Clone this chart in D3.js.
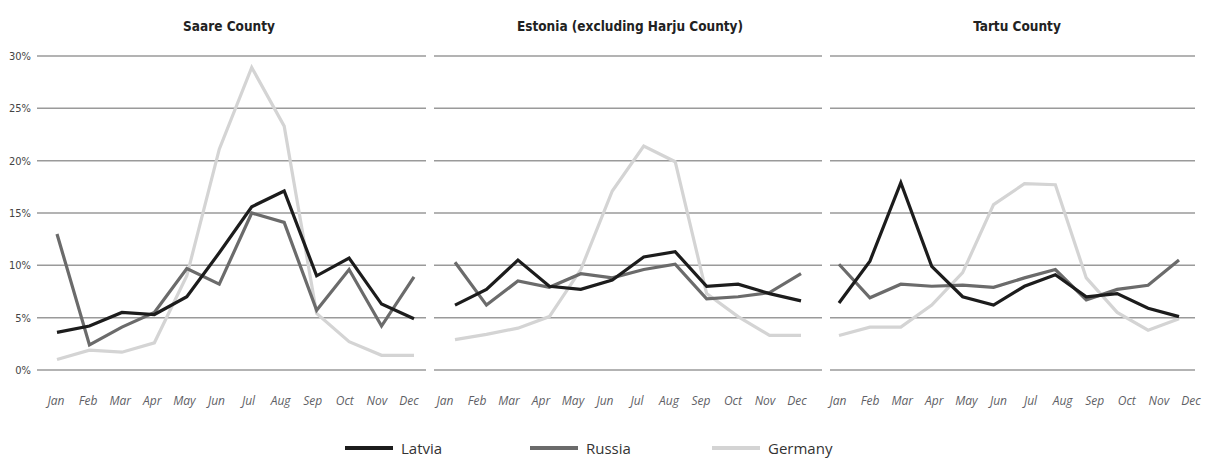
<!DOCTYPE html>
<html>
<head>
<meta charset="utf-8">
<script src="https://cdn.jsdelivr.net/npm/d3@7"></script>
<style>
  body { margin: 0; background: #fff; }
  #chart { width: 1213px; height: 462px; }
  .title { font-family: "Liberation Sans Narrow", "DejaVu Sans Condensed", sans-serif; font-weight: bold; font-size: 13.5px; fill: #222; }
  .month { font-family: "Open Sans", sans-serif; font-style: italic; font-size: 12px; fill: #5f5f66; }
  .ytick { font-family: "Liberation Sans Narrow", "DejaVu Sans Condensed", sans-serif; font-size: 11px; fill: #444; }
  .legend { font-family: "Open Sans", sans-serif; font-size: 15px; fill: #333; }
</style>
</head>
<body>
<div id="chart"></div>
<script>
var months = ["Jan","Feb","Mar","Apr","May","Jun","Jul","Aug","Sep","Oct","Nov","Dec"];
var regions = ["Saare County", "Estonia (excluding Harju County)", "Tartu County"];
var countries = ["Latvia", "Russia", "Germany"];
var yTicks = [0, 5, 10, 15, 20, 25, 30];

// percent per month
var saareLatvia  = [3.6, 4.2, 5.5, 5.3, 7.0, 11.2, 15.6, 17.1, 9.0, 10.7, 6.3, 4.9];
var saareRussia  = [13.0, 2.4, 4.1, 5.5, 9.7, 8.2, 15.0, 14.1, 5.7, 9.6, 4.2, 8.9];
var saareGermany = [1.0, 1.9, 1.7, 2.6, 9.0, 21.1, 28.9, 23.3, 5.4, 2.7, 1.4, 1.4];

var estoniaLatvia  = [6.2, 7.7, 10.5, 8.0, 7.7, 8.6, 10.8, 11.3, 8.0, 8.2, 7.3, 6.6];
var estoniaRussia  = [10.3, 6.2, 8.5, 7.9, 9.2, 8.8, 9.6, 10.1, 6.8, 7.0, 7.4, 9.2];
var estoniaGermany = [2.9, 3.4, 4.0, 5.1, 9.6, 17.1, 21.4, 19.9, 7.3, 5.1, 3.3, 3.3];

var tartuLatvia  = [6.4, 10.4, 17.9, 9.9, 7.0, 6.2, 8.0, 9.1, 7.0, 7.3, 5.9, 5.1];
var tartuRussia  = [10.1, 6.9, 8.2, 8.0, 8.1, 7.9, 8.8, 9.6, 6.7, 7.7, 8.1, 10.5];
var tartuGermany = [3.3, 4.1, 4.1, 6.2, 9.3, 15.8, 17.8, 17.7, 8.8, 5.5, 3.8, 4.9];

var seriesByRegion = [
  [saareLatvia, saareRussia, saareGermany],
  [estoniaLatvia, estoniaRussia, estoniaGermany],
  [tartuLatvia, tartuRussia, tartuGermany]
];

var width = 1213, height = 462;
var colors = {Latvia: "#1c1c1c", Russia: "#6b6b6b", Germany: "#d4d4d4"};

// panel layout
var panels = [
  {grid: [37, 426], data: [57, 414], labels: [56, 409], title: 229},
  {grid: [434, 822], data: [455, 801], labels: [445, 797], title: 630},
  {grid: [830, 1195], data: [839, 1179], labels: [838, 1191], title: 1017}
];

var svg = d3.select("#chart").append("svg")
  .attr("width", width)
  .attr("height", height);

var yScale = d3.scaleLinear().domain([0, 30]).range([370, 56]);

// y tick labels on the left
svg.append("g")
  .selectAll("text")
  .data(yTicks)
  .join("text")
  .attr("class", "ytick")
  .attr("x", 31)
  .attr("y", function(d) { return yScale(d); })
  .attr("dy", "0.35em")
  .attr("text-anchor", "end")
  .text(function(d) { return d + "%"; });

panels.forEach(function(p, i) {
  var g = svg.append("g");

  var xScale = d3.scalePoint().domain(months).range(p.data);
  var labelScale = d3.scalePoint().domain(months).range(p.labels);

  // gridlines
  g.selectAll(".grid")
    .data(yTicks)
    .join("line")
    .attr("x1", p.grid[0])
    .attr("x2", p.grid[1])
    .attr("y1", function(d) { return yScale(d); })
    .attr("y2", function(d) { return yScale(d); })
    .attr("stroke", "#9a9a9a")
    .attr("stroke-width", 1.5);

  g.append("text")
    .attr("class", "title")
    .attr("x", p.title)
    .attr("y", 31)
    .attr("text-anchor", "middle")
    .text(regions[i]);

  g.selectAll(".month")
    .data(months)
    .join("text")
    .attr("class", "month")
    .attr("x", function(d) { return labelScale(d); })
    .attr("y", 405)
    .attr("text-anchor", "middle")
    .text(function(d) { return d; });

  var line = d3.line()
    .x(function(d, j) { return xScale(months[j]); })
    .y(function(d) { return yScale(d); });

  // draw Germany first so darker lines sit on top
  [2, 1, 0].forEach(function(k) {
    g.append("path")
      .datum(seriesByRegion[i][k])
      .attr("d", line)
      .attr("fill", "none")
      .attr("stroke", colors[countries[k]])
      .attr("stroke-width", 3.2)
      .attr("stroke-linejoin", "miter");
  });
});

// legend
var legendX = [345, 530, 712];
var legend = svg.append("g")
  .selectAll("g")
  .data(countries)
  .join("g")
  .attr("transform", function(d, i) { return "translate(" + legendX[i] + ",448)"; });

legend.append("line")
  .attr("x1", 0)
  .attr("x2", 48)
  .attr("stroke", function(d) { return colors[d]; })
  .attr("stroke-width", 4);

legend.append("text")
  .attr("class", "legend")
  .attr("x", 56)
  .attr("y", 6)
  .text(function(d) { return d; });
</script>
</body>
</html>
